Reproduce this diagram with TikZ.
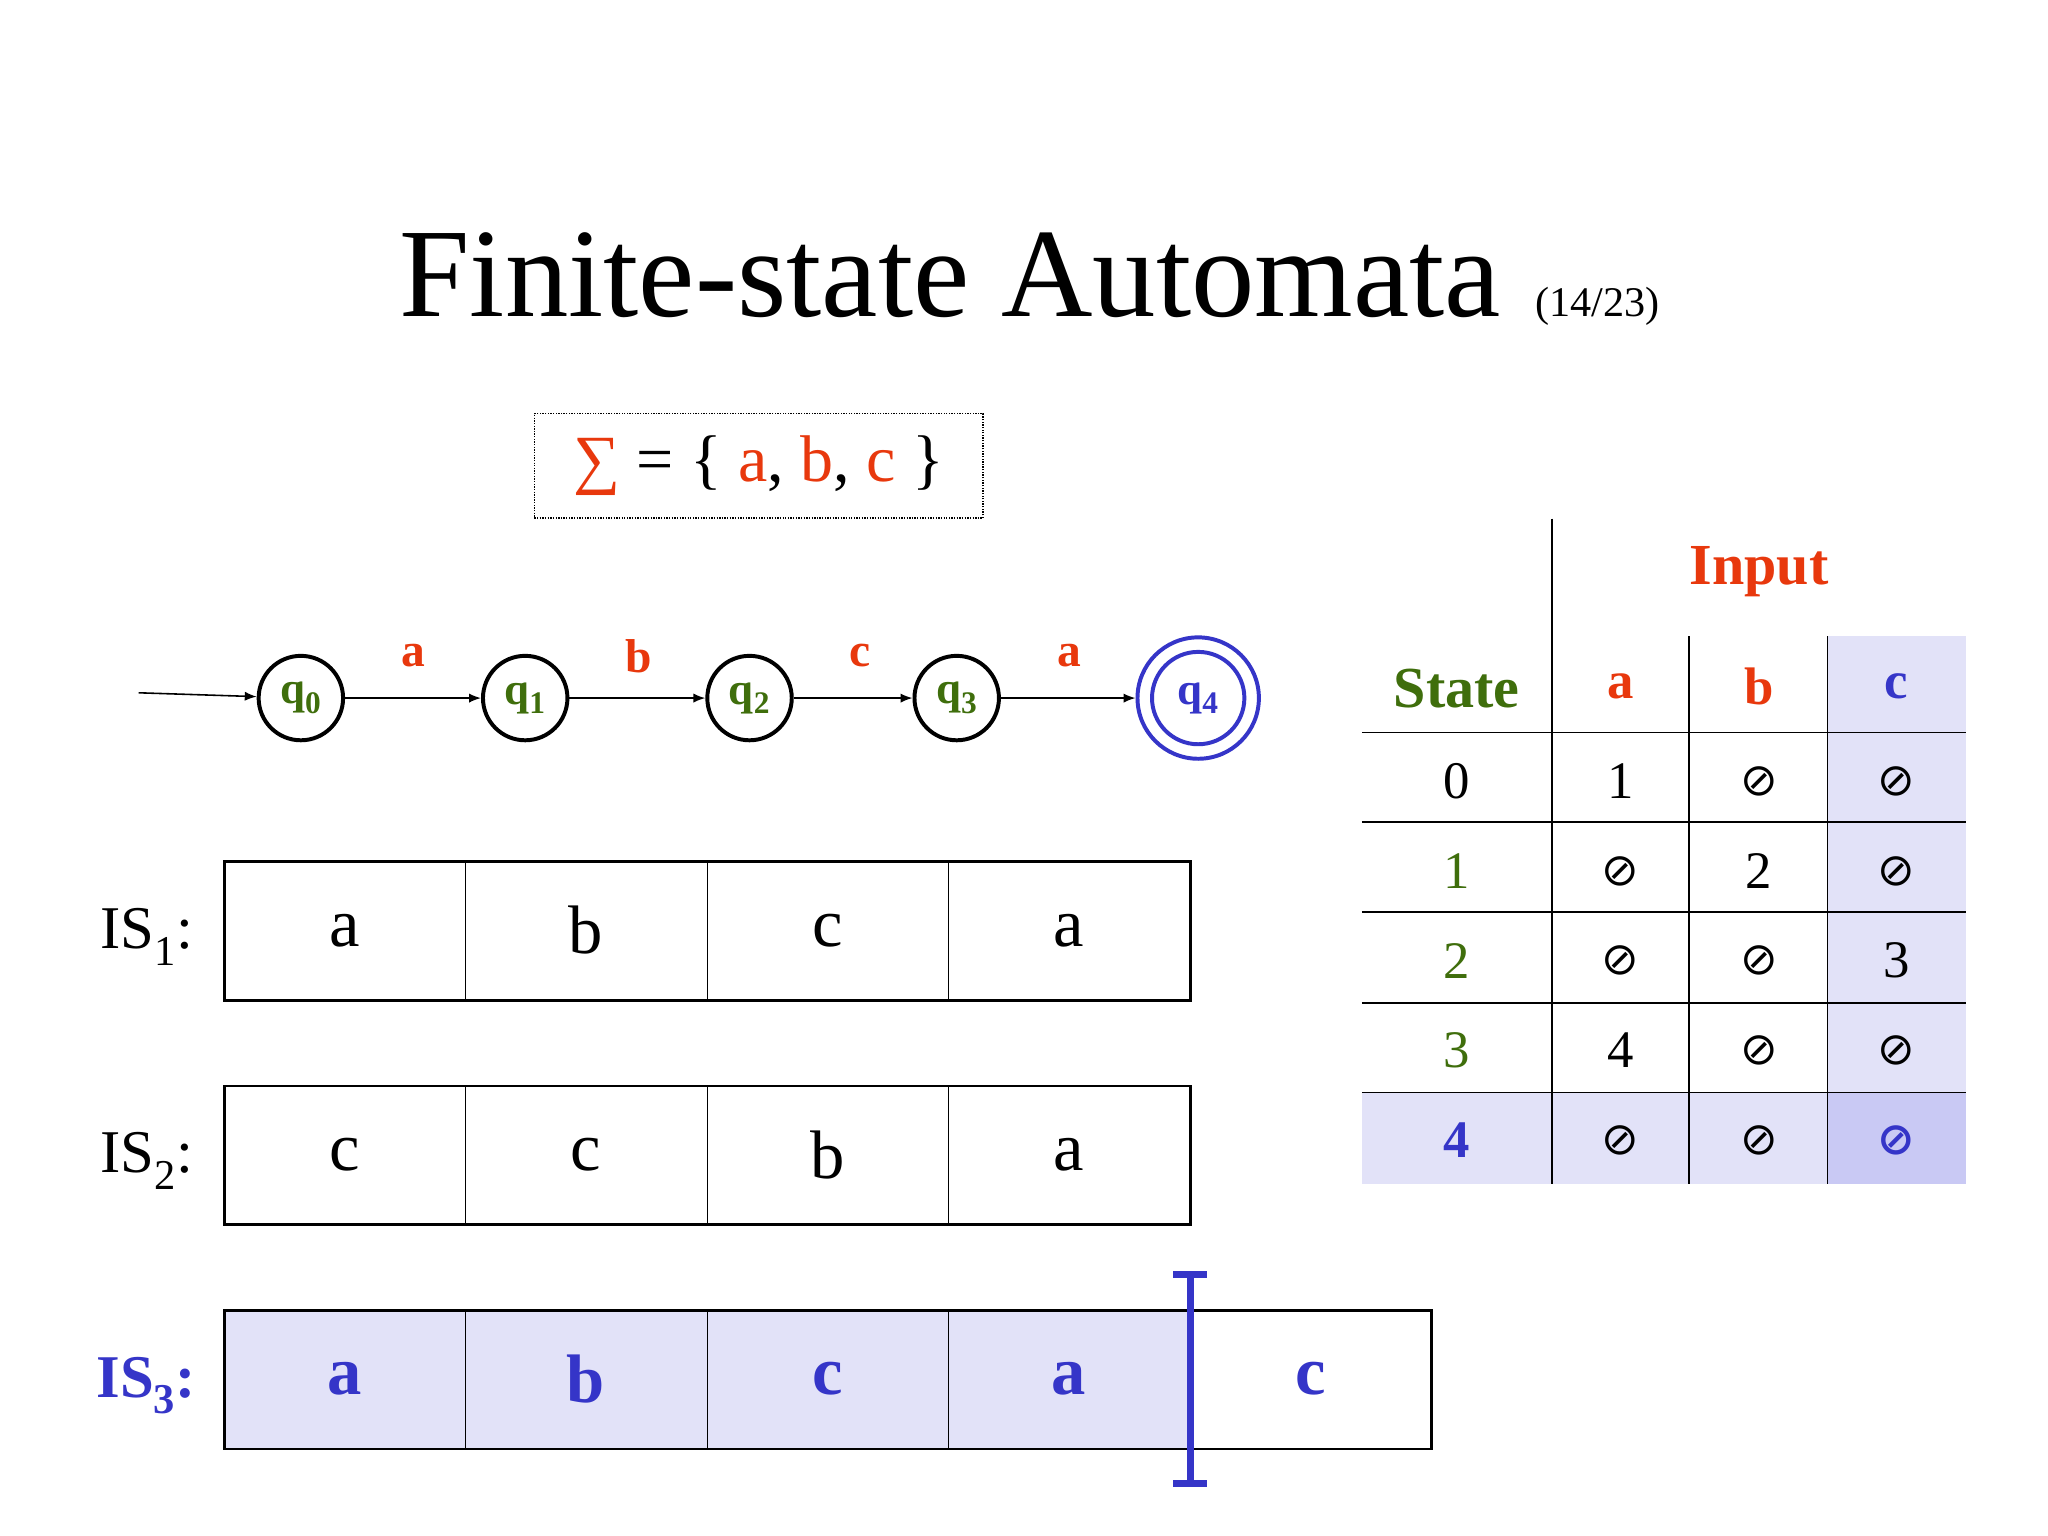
\documentclass[tikz,border=0pt]{standalone}
\usepackage{fontspec}
\setmainfont{Liberation Serif}
\newfontfamily\symf{DejaVu Sans}
\usetikzlibrary{arrows.meta}
\definecolor{myred}{HTML}{E8380D}
\definecolor{mygreen}{HTML}{3F6E0C}
\definecolor{myblue}{HTML}{3535C8}
\definecolor{lightsh}{HTML}{E2E2F8}
\definecolor{darksh}{HTML}{C9C9F4}
\newcommand{\es}{{\symf\fontsize{34}{34}\selectfont ⊘}}
\tikzset{
  st/.style={circle,draw,line width=3pt,minimum size=64pt,inner sep=0pt,font=\fontsize{34}{34}\selectfont\bfseries,text=mygreen},
  tr/.style={-{Latex[length=9pt,width=7pt]},line width=1.2pt},
  el/.style={font=\fontsize{36}{36}\selectfont\bfseries,text=myred},
  cell/.style={font=\fontsize{52}{52}\selectfont},
  tb/.style={font=\fontsize{40}{40}\selectfont},
  isl/.style={font=\fontsize{46}{46}\selectfont,anchor=east},
}
\begin{document}
\begin{tikzpicture}[x=1pt,y=-1pt]
\useasboundingbox (0,0) rectangle (1552,1164);
\fill[white] (0,0) rectangle (1552,1164);
% title
\node[font=\fontsize{96}{96}\selectfont,anchor=base] (title) at (720,240) {Finite-state Automata};
\node[font=\fontsize{32}{32}\selectfont,anchor=base west] (pg) at (1160,240) {(14/23)};
% sigma box
\node[draw,densely dotted,line width=1pt,minimum width=340pt,minimum height=79pt,font=\fontsize{50}{50}\selectfont] (sig) at (575,353) {\textcolor{myred}{∑} = \{ \textcolor{myred}{a}, \textcolor{myred}{b}, \textcolor{myred}{c} \}};
% automaton
\node[st] (q0) at (228,529) {q\textsubscript{0}};
\node[st] (q1) at (398,529) {q\textsubscript{1}};
\node[st] (q2) at (568,529) {q\textsubscript{2}};
\node[st] (q3) at (725,529) {q\textsubscript{3}};
\node[circle,draw=myblue,line width=3pt,minimum size=92pt,inner sep=0pt] (q4) at (908,529) {};
\node[circle,draw=myblue,line width=3pt,minimum size=70pt,inner sep=0pt,font=\fontsize{34}{34}\selectfont\bfseries,text=myblue] (q4i) at (908,529) {q\textsubscript{4}};
\coordinate (init) at (105,525);
\draw[tr] (init) -- (q0);
\draw[tr] (q0) -- (q1);
\draw[tr] (q1) -- (q2);
\draw[tr] (q2.east) -- (q3.west);
\draw[tr] (q3) -- (q4);
\node[el] (la) at (313,497) {a};
\node[el] (lb) at (484,497) {b};
\node[el] (lc) at (652,497) {c};
\node[el] (ld) at (810,497) {a};
% table
\fill[lightsh] (1385,482) rectangle (1490,897);
\fill[lightsh] (1032,828) rectangle (1490,897);
\fill[darksh] (1385,828) rectangle (1490,897);
\draw[line width=1pt] (1176,393) -- (1176,897);
\draw[line width=1pt] (1280,482) -- (1280,897);
\draw[line width=1pt] (1385,482) -- (1385,897);
\foreach \y in {555,623,691,760,828} \draw[line width=1pt] (1032,\y) -- (1490,\y);
\node[font=\fontsize{44}{44}\selectfont\bfseries,text=myred] (inp) at (1333,433) {Input};
\node[font=\fontsize{44}{44}\selectfont\bfseries,text=mygreen] (sth) at (1104,522) {State};
\node[el,font=\fontsize{40}{40}\selectfont\bfseries] (ha) at (1228,520) {a};
\node[el,font=\fontsize{40}{40}\selectfont\bfseries] (hb) at (1333,520) {b};
\node[el,font=\fontsize{40}{40}\selectfont\bfseries,text=myblue] (hc) at (1437,520) {c};
\node[tb] (s0) at (1104,592) {0};
\node[tb,text=mygreen] (s1) at (1104,660) {1};
\node[tb,text=mygreen] (s2) at (1104,728) {2};
\node[tb,text=mygreen] (s3) at (1104,796) {3};
\node[tb,text=myblue,font=\fontsize{40}{40}\selectfont\bfseries] (s4) at (1104,864) {4};
\node[tb] (c0a) at (1228,592) {1};
\node (c0b) at (1333,592) {\es};
\node (c0c) at (1437,592) {\es};
\node (c1a) at (1228,660) {\es};
\node[tb] (c1b) at (1333,660) {2};
\node (c1c) at (1437,660) {\es};
\node (c2a) at (1228,728) {\es};
\node (c2b) at (1333,728) {\es};
\node[tb] (c2c) at (1437,728) {3};
\node[tb] (c3a) at (1228,796) {4};
\node (c3b) at (1333,796) {\es};
\node (c3c) at (1437,796) {\es};
\node (c4a) at (1228,864) {\es};
\node (c4b) at (1333,864) {\es};
\node[text=myblue] (c4c) at (1437,864) {\symf\bfseries\fontsize{34}{34}\selectfont ⊘};
% tapes
\node[isl] (is1) at (150,710) {IS\textsubscript{1}:};
\node[isl] (is2) at (150,880) {IS\textsubscript{2}:};
\node[isl,text=myblue,font=\fontsize{46}{46}\selectfont\bfseries] (is3) at (152,1050) {IS\textsubscript{3}:};
\fill[lightsh] (170,993) rectangle (902,1098);
\foreach \t in {653,823}{
  \draw[line width=0.8pt] (353,\t) -- ++(0,105) (536,\t) -- ++(0,105) (719,\t) -- ++(0,105);
  \draw[line width=2pt] (170,\t) rectangle (902,\t+105);
}
\draw[line width=0.8pt] (353,993) -- ++(0,105) (536,993) -- ++(0,105) (719,993) -- ++(0,105);
\draw[line width=2pt] (170,993) rectangle (1085,1098);
\node[cell] (a1) at (261,705) {a};
\node[cell] (b1) at (444,705) {b};
\node[cell] (c1) at (627,705) {c};
\node[cell] (d1) at (810,705) {a};
\node[cell] (a2) at (261,875) {c};
\node[cell] (b2) at (444,875) {c};
\node[cell] (c2) at (627,875) {b};
\node[cell] (d2) at (810,875) {a};
\node[cell,font=\fontsize{52}{52}\selectfont\bfseries,text=myblue] (a3) at (261,1045) {a};
\node[cell,font=\fontsize{52}{52}\selectfont\bfseries,text=myblue] (b3) at (444,1045) {b};
\node[cell,font=\fontsize{52}{52}\selectfont\bfseries,text=myblue] (c3) at (627,1045) {c};
\node[cell,font=\fontsize{52}{52}\selectfont\bfseries,text=myblue] (d3) at (810,1045) {a};
\node[cell,font=\fontsize{52}{52}\selectfont\bfseries,text=myblue] (e3) at (993,1045) {c};
\draw[myblue,line width=5pt] (902,966) -- (902,1124) (889,966) -- (915,966) (889,1124) -- (915,1124);
\end{tikzpicture}
\end{document}
